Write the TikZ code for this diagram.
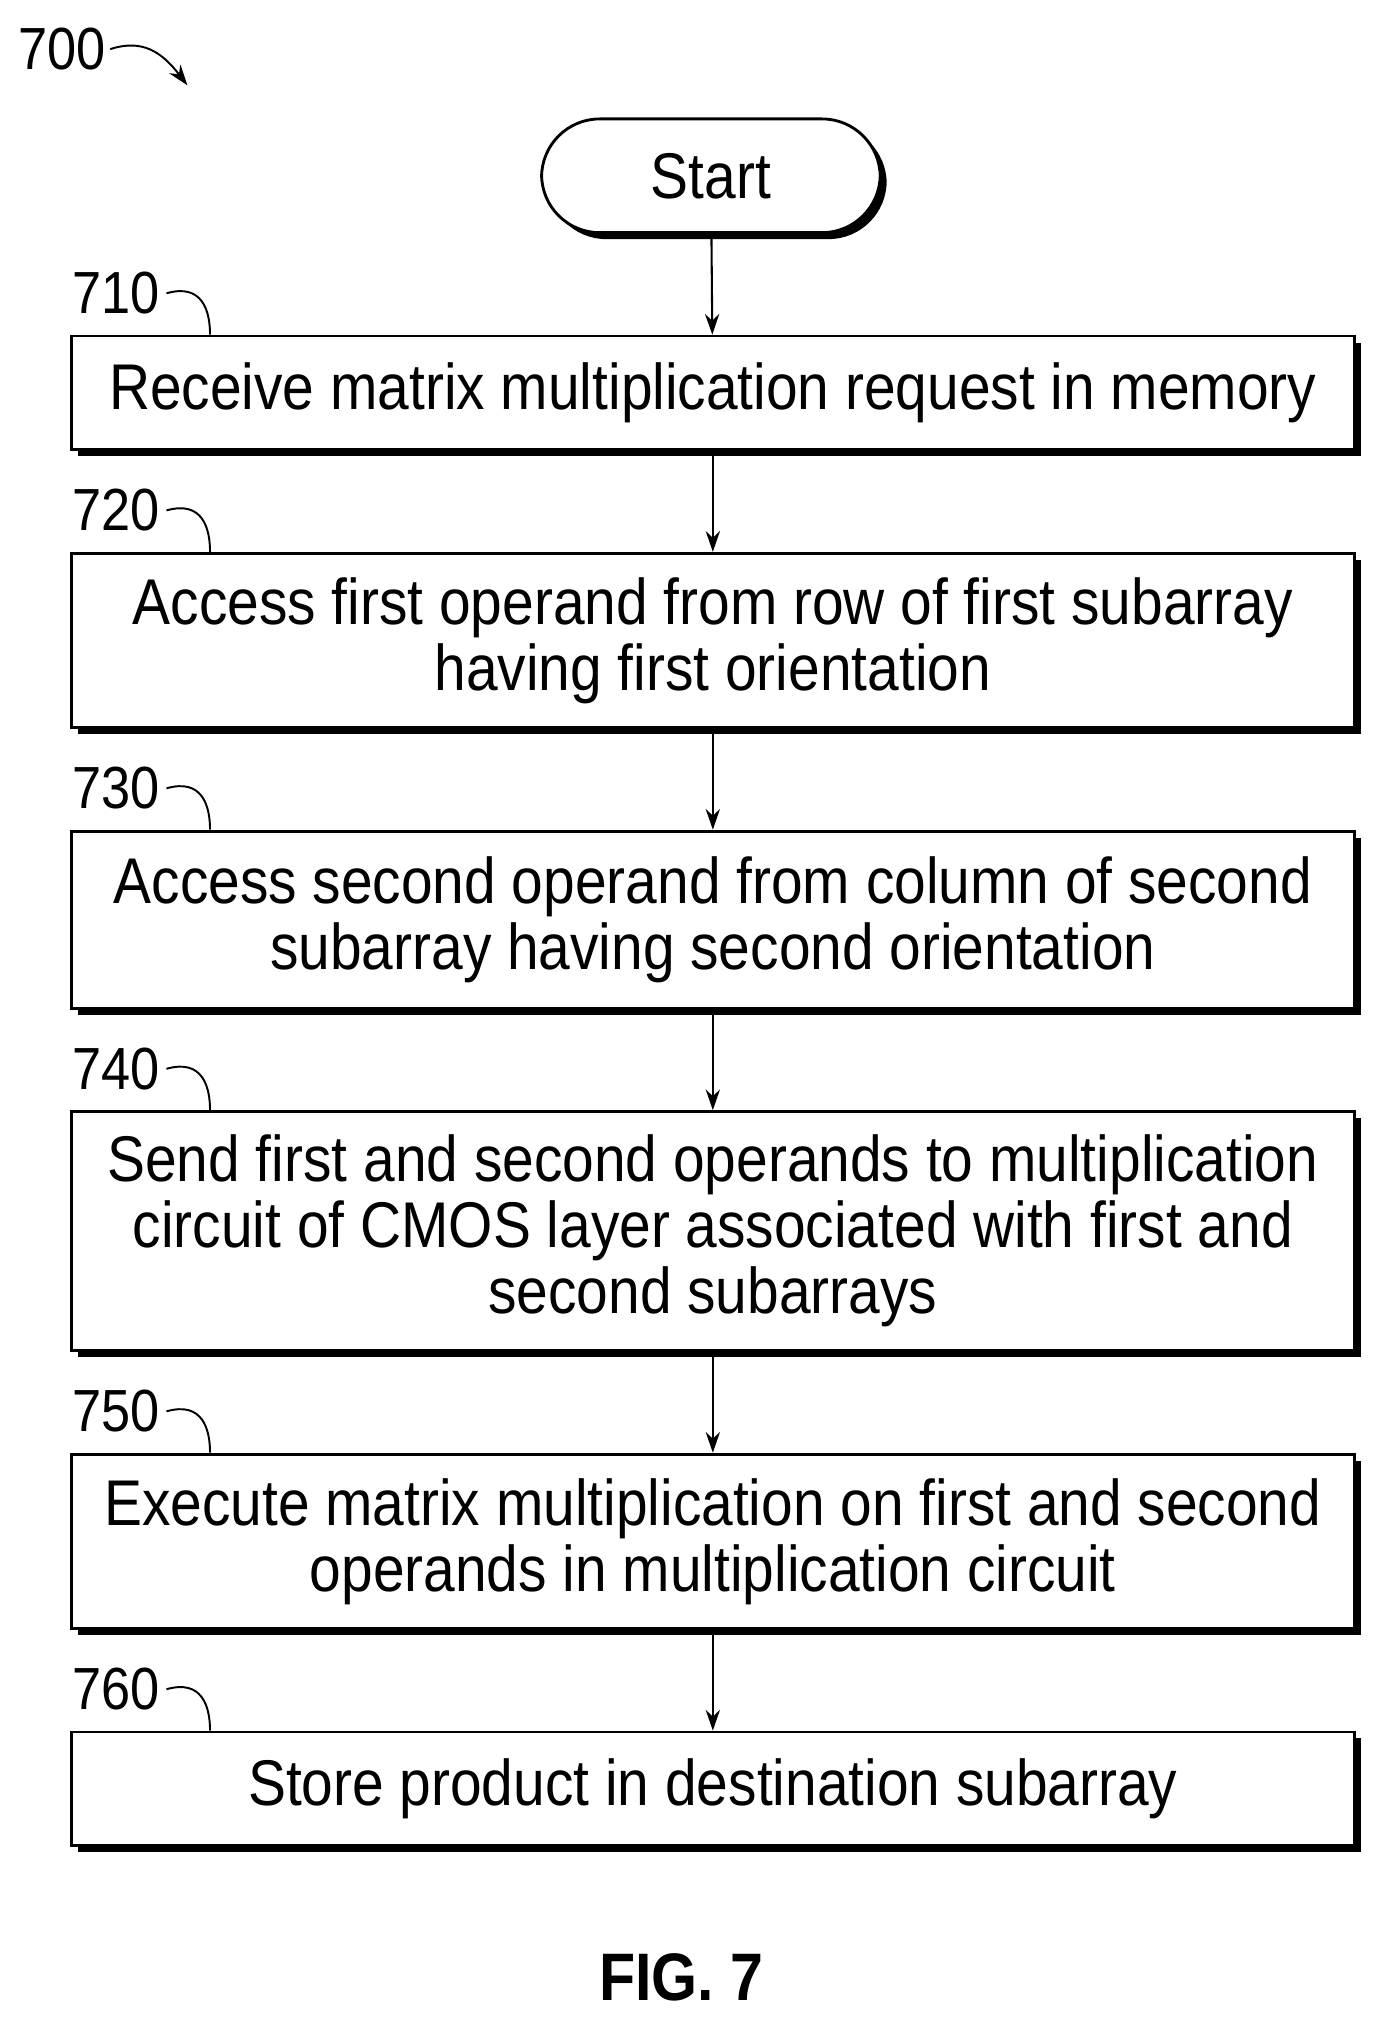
\documentclass[tikz,border=0pt]{standalone}
\usepackage{fontspec}
\setmainfont{Liberation Sans}[FakeStretch=0.88]
\usetikzlibrary{shadows,arrows.meta}
\begin{document}
\begin{tikzpicture}[x=1pt,y=-1pt,
  box/.style={draw,line width=2.2pt,fill=white,minimum width=993pt,align=center,
    font=\fontsize{50}{51}\selectfont,inner sep=0pt,
    drop shadow={shadow xshift=5pt,shadow yshift=-5pt,fill=black,opacity=1}},
  lab/.style={font=\fontsize{46}{46}\selectfont,anchor=center},
  arr/.style={-{Stealth[length=16pt,width=11pt]},line width=1.6pt},
  hook/.style={line width=1.5pt}]
\useasboundingbox (0,0) rectangle (1069,1569);
\node[box,rounded corners=45pt,minimum width=262pt,minimum height=88pt] (s) at (550,136) {Start};
\node[box,minimum height=88pt] (b1) at (551.5,304) {Receive matrix multiplication request in memory};
\node[box,minimum height=135pt] (b2) at (551.5,495.5) {Access first operand from row of first subarray\\having first orientation};
\node[box,minimum height=137pt] (b3) at (551.5,711.5) {Access second operand from column of second\\subarray having second orientation};
\node[box,minimum height=185pt] (b4) at (551.5,952.5) {Send first and second operands to multiplication\\circuit of CMOS layer associated with first and\\second subarrays};
\node[box,minimum height=135pt] (b5) at (551.5,1192.5) {Execute matrix multiplication on first and second\\operands in multiplication circuit};
\node[box,minimum height=88pt] (b6) at (551.5,1384) {Store product in destination subarray};
\draw[arr] (s) -- (b1);
\draw[arr] (b1) -- (b2);
\draw[arr] (b2) -- (b3);
\draw[arr] (b3) -- (b4);
\draw[arr] (b4) -- (b5);
\draw[arr] (b5) -- (b6);
\foreach \n/\t in {b1/710,b2/720,b3/730,b4/740,b5/750,b6/760}{
  \node[lab] (l\n) at ([xshift=-462pt,yshift=32pt]\n.north) {\t};
  \draw[hook] ([xshift=2pt]l\n.east) .. controls +(28,-8) and +(0,-18) .. ([xshift=-389pt]\n.north);
}
\node[lab] (l700) at (48,38) {700};
\coordinate (a700) at (145,66);
\draw[arr,line width=1.5pt] (l700.east) .. controls (110,30) and (125,40) .. (a700);
\node[font=\bfseries\fontsize{52}{52}\selectfont] (fig) at (527,1530) {FIG. 7};
\end{tikzpicture}
\end{document}
